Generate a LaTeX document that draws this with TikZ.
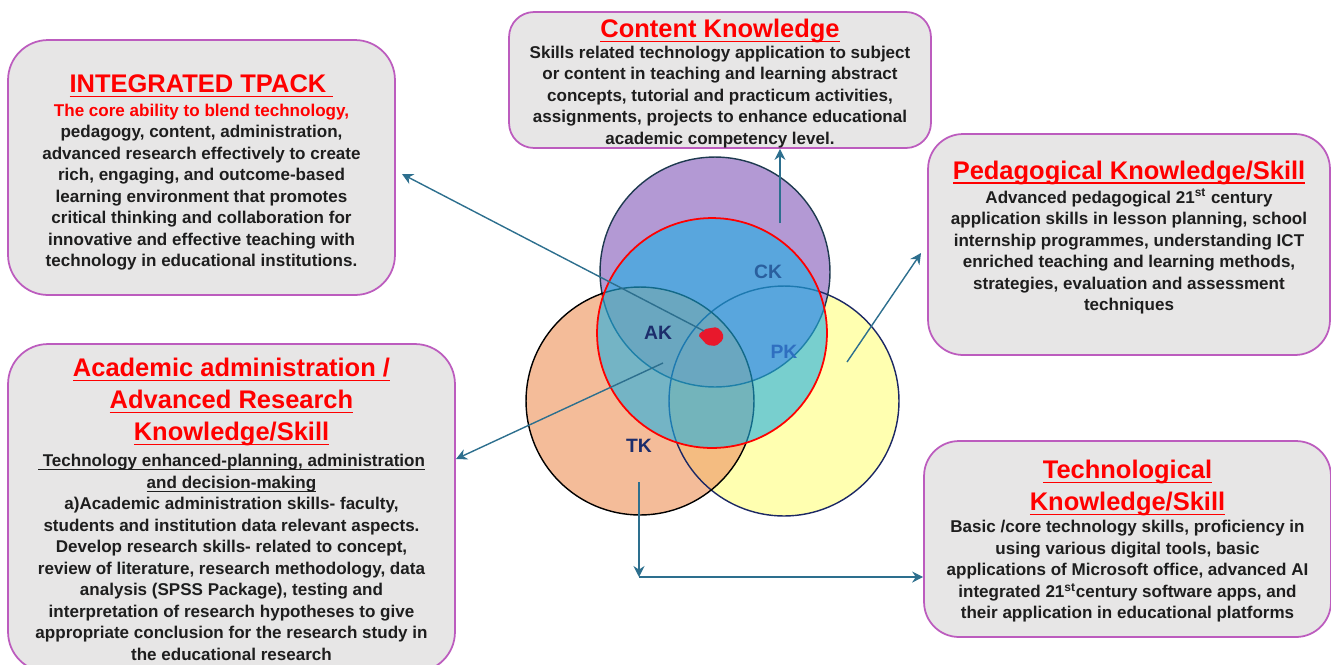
\documentclass[tikz,border=0pt]{standalone}
\usepackage{fontspec}
\setmainfont{Liberation Sans}
\usepackage{tikz}
\usetikzlibrary{arrows.meta}

\definecolor{boxfill}{RGB}{231,230,230}
\definecolor{boxline}{RGB}{188,92,190}
\definecolor{bodytext}{RGB}{30,30,30}
\definecolor{arrowcol}{RGB}{45,111,142}
\definecolor{ckfill}{RGB}{179,153,212}
\definecolor{pkfill}{RGB}{255,255,176}
\definecolor{tkfill}{RGB}{240,160,110}
\definecolor{akfill}{RGB}{30,175,227}
\definecolor{ckline}{RGB}{30,58,80}
\definecolor{pkline}{RGB}{28,40,100}
\definecolor{navy}{RGB}{28,45,107}
\definecolor{steel}{RGB}{42,95,158}
\definecolor{pkblue}{RGB}{47,111,192}
\definecolor{coreRed}{RGB}{232,24,44}

\newcommand\ulTitle[1]{\setbox0\hbox{#1}\rlap{\rule[-2.6pt]{\wd0}{0.8pt}}\box0}
\newcommand\ulBody[1]{\setbox0\hbox{#1}\rlap{\rule[-2pt]{\wd0}{0.5pt}}\box0}

\begin{document}
\begin{tikzpicture}[x=0.02cm,y=-0.02cm,
  box/.style={draw=boxline,line width=1pt,fill=boxfill,inner sep=0pt},
  ttl/.style={text=red,font=\fontsize{14.5}{18.1}\selectfont\bfseries,align=center,inner sep=0pt},
  body/.style={text=bodytext,font=\fontsize{9.7}{12.25}\selectfont\bfseries,align=center,inner sep=0pt},
  lbl/.style={font=\fontsize{11}{13}\selectfont\bfseries,inner sep=0pt},
  ring/.style={line width=0.8pt},
  arr/.style={draw=arrowcol,line width=0.8pt,-{Stealth[length=2.2mm,width=2.2mm]}}]

\useasboundingbox (0,0) rectangle (1331,664);

\node [box,rounded corners=0.8cm,minimum width=7.74cm,minimum height=5.1cm] (tpack) at (201.5,167.5) {};
\node [box,rounded corners=0.5cm,minimum width=8.44cm,minimum height=2.72cm] (content) at (720,80) {};
\node [box,rounded corners=0.7cm,minimum width=8.04cm,minimum height=4.42cm] (pedag) at (1129,244.5) {};
\node [box,rounded corners=0.8cm,minimum width=8.94cm,minimum height=6.56cm] (acad) at (231.5,508) {};
\node [box,rounded corners=0.7cm,minimum width=8.14cm,minimum height=3.92cm] (techn) at (1127.5,539) {};

\coordinate (ckC) at (715,272);
\coordinate (akC) at (712,333);
\coordinate (tkC) at (640,401);
\coordinate (pkC) at (784,401);

\fill [pkfill] (pkC) circle [radius=2.3cm];
\fill [ckfill] (ckC) circle [radius=2.3cm];
\fill [tkfill,fill opacity=0.7] (tkC) circle [radius=2.28cm];
\draw [ring,draw=pkline] (pkC) circle [radius=2.3cm];
\draw [ring,draw=ckline] (ckC) circle [radius=2.3cm];
\draw [ring,draw=black] (tkC) circle [radius=2.28cm];
\fill [akfill,fill opacity=0.6] (akC) circle [radius=2.3cm];
\draw [ring,draw=red,line width=1pt] (akC) circle [radius=2.3cm];

\fill [coreRed,rounded corners=1pt] (698,335) -- (705,329) -- (717,327) -- (723,333) -- (723,340) -- (716,346) -- (707,345) -- cycle;

\node [lbl,text=steel] (ck) at (768,272) {CK};
\node [lbl,text=navy] (ak) at (658,333) {AK};
\node [lbl,text=pkblue] (pk) at (784,352) {PK};
\node [lbl,text=navy] (tk) at (639,446) {TK};

\node [ttl] (tpackT) at (201.5,86) {\ulTitle{INTEGRATED TPACK\ }};
\node [body] (tpackB) at (201.5,187) {{\color{red}The core ability to blend technology,}\\
  pedagogy, content, administration,\\
  advanced research effectively to create\\
  rich, engaging, and outcome-based\\
  learning environment that promotes\\
  critical thinking and collaboration for\\
  innovative and effective teaching with\\
  technology in educational institutions.};

\node [ttl] (contentT) at (720,31) {\ulTitle{Content Knowledge}};
\node [body] (contentB) at (720,97) {Skills related technology application to subject\\
  or content in teaching and learning abstract\\
  concepts, tutorial and practicum activities,\\
  assignments, projects to enhance educational\\
  academic competency level.};

\node [ttl] (pedagT) at (1129,172.5) {\ulTitle{Pedagogical Knowledge/Skill}};
\node [body] (pedagB) at (1129,251.5) {Advanced pedagogical 21\textsuperscript{st} century\\
  application skills in lesson planning, school\\
  internship programmes, understanding ICT\\
  enriched teaching and learning methods,\\
  strategies, evaluation and assessment\\
  techniques};

\node [ttl] (acadT) at (231.5,402) {\ulTitle{Academic administration /}\\
  \ulTitle{Advanced Research}\\
  \ulTitle{Knowledge/Skill}};
\node [body] (acadB) at (231.5,557.5) {\ulBody{\ Technology enhanced-planning, administration}\\
  \ulBody{and decision-making}\\
  a)Academic administration skills- faculty,\\
  students and institution data relevant aspects.\\
  Develop research skills- related to concept,\\
  review of literature, research methodology, data\\
  analysis (SPSS Package), testing and\\
  interpretation of research hypotheses to give\\
  appropriate conclusion for the research study in\\
  the educational research};

\node [ttl] (technT) at (1127.5,488) {\ulTitle{Technological}\\
  \ulTitle{Knowledge/Skill}};
\node [body] (technB) at (1127.5,571.5) {Basic /core technology skills, proficiency in\\
  using various digital tools, basic\\
  applications of Microsoft office, advanced AI\\
  integrated 21\textsuperscript{st}century software apps, and\\
  their application in educational platforms};

\coordinate (core) at (704,331);
\coordinate (tpTip) at (402,174);
\coordinate (ckTail) at (780,223);
\coordinate (pkTail) at (847,362);
\coordinate (pkTip) at (921,253);
\coordinate (acTail) at (663,363);
\coordinate (acTip) at (456,459);
\coordinate (tkTail) at (639,482);
\coordinate (tkCorner) at (639,577);

\draw [arr] (core) -- (tpTip);
\draw [arr] (ckTail) -- (ckTail |- content.south);
\draw [arr] (pkTail) -- (pkTip);
\draw [arr] (acTail) -- (acTip);
\draw [arr] (tkTail) -- (tkCorner);
\draw [arr] (tkCorner) -- (tkCorner -| techn.west);

\end{tikzpicture}
\end{document}
